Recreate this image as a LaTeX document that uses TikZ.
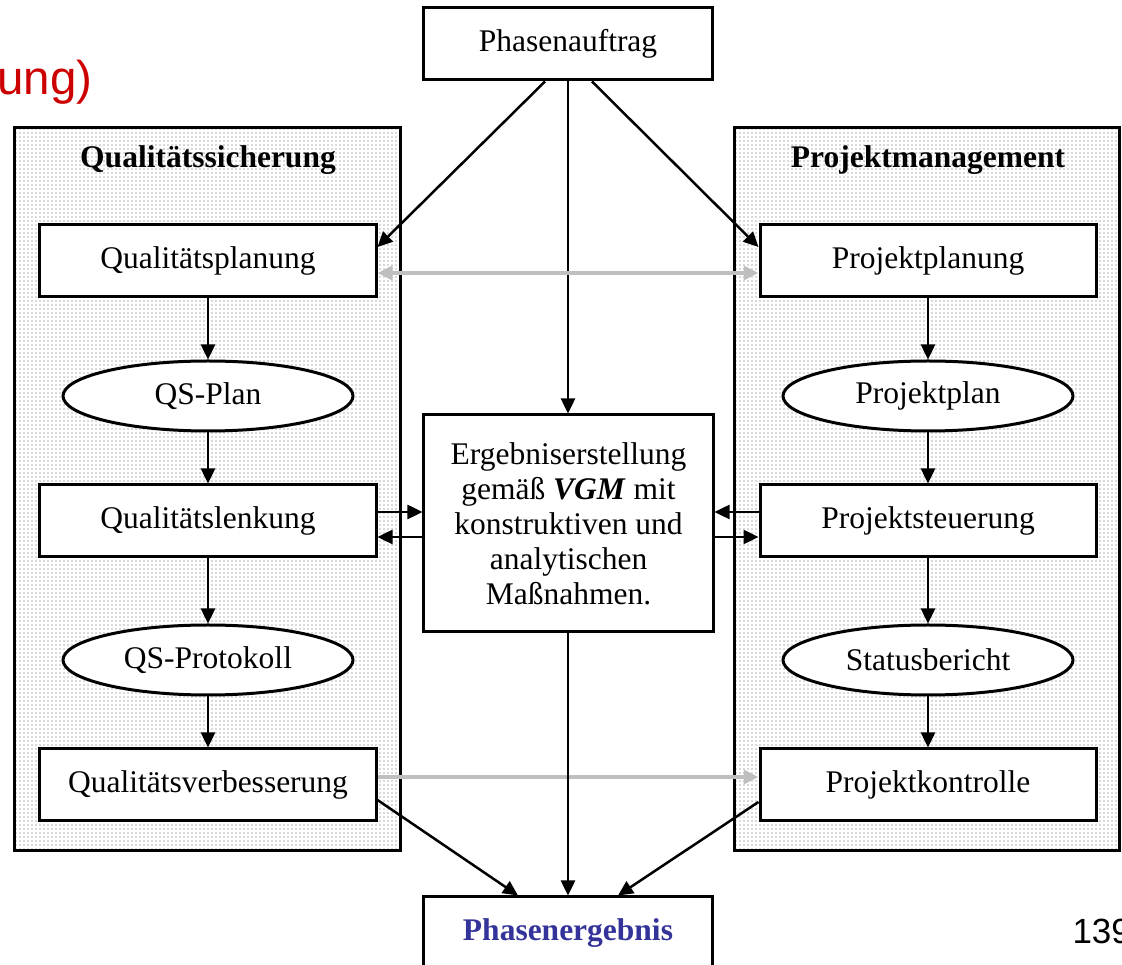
\documentclass[tikz,border=0pt]{standalone}
\usepackage{fontspec}
\setmainfont{Liberation Serif}
\newfontfamily\arialfont{Liberation Sans}
\usetikzlibrary{arrows.meta,patterns.meta,shapes.geometric}
\definecolor{titelrot}{RGB}{204,0,0}
\definecolor{ergblau}{RGB}{51,51,153}
\tikzset{
    kasten/.style={draw, line width=1.2pt, fill=white, minimum width=134.4pt, minimum height=28.8pt},
    oval/.style={draw, line width=1.2pt, fill=white, ellipse, minimum width=116pt, minimum height=28pt},
    bereich/.style={draw, line width=1.2pt, pattern={Dots[distance=1.6pt,radius=0.35pt]}, pattern color=gray!60, minimum width=154pt, minimum height=288.8pt},
    pfeil/.style={line width=1pt, -{Triangle[length=6pt,width=5.6pt]}},
    grau/.style={line width=1.6pt, draw=gray!50, -{Triangle[length=6pt,width=5.6pt]}},
}
\begin{document}
\begin{tikzpicture}[x=0.4pt, y=-0.4pt, font=\fontsize{12.6pt}{14pt}\selectfont]
        \useasboundingbox (0,0) rectangle (1122,965);
        
        \node[anchor=base east, text=titelrot, font=\arialfont\fontsize{19pt}{22pt}\selectfont, inner sep=0pt] (titel) at (93,95) {ung)};
        \node[anchor=base west, font=\arialfont\fontsize{14pt}{16pt}\selectfont, inner sep=0pt] (seite) at (1072,944) {139};
        
        % Bereiche
        \node[bereich] (qs) at (207.5,489) {};
        \node[bereich] (pm) at (927,489) {};
        \node[font=\fontsize{12.6pt}{14pt}\bfseries] (qstitel) at (208,160) {Qualitätssicherung};
        \node[font=\fontsize{12.6pt}{14pt}\bfseries] (pmtitel) at (928,160) {Projektmanagement};
        
        \node[kasten, minimum width=115.6pt] (auftrag) at (568,44) {Phasenauftrag};
        \node[kasten, minimum width=115.6pt, minimum height=86.8pt, align=center] (erstell) at (568.5,523.5)
            {Ergebniserstellung\\gemäß \textbf{\textit{VGM}} mit\\konstruktiven und\\analytischen\\Maßnahmen.};
        \node[kasten, minimum width=115.6pt, text=ergblau, font=\fontsize{12.6pt}{14pt}\bfseries] (ergebnis) at (568,933) {Phasenergebnis};
        
        \node[kasten] (qplan) at (208,261) {Qualitätsplanung};
        \node[oval] (qsplan) at (208,396) {QS-Plan};
        \node[kasten] (qlenk) at (208,521) {Qualitätslenkung};
        \node[oval] (qsprot) at (208,660) {QS-Protokoll};
        \node[kasten] (qverb) at (208,785) {Qualitätsverbesserung};
        
        \node[kasten] (pplan) at (928,261) {Projektplanung};
        \node[oval] (pplanoval) at (928,396) {Projektplan};
        \node[kasten] (psteu) at (928,521) {Projektsteuerung};
        \node[oval] (status) at (928,660) {Statusbericht};
        \node[kasten] (pkontr) at (928,785) {Projektkontrolle};
        
        % Pfeile
        \draw[pfeil] ([xshift=-9.2pt]auftrag.south) -- ([yshift=5.6pt]qplan.east);
        \draw[pfeil] ([xshift=9.6pt]auftrag.south) -- ([yshift=5.6pt]pplan.west);
        \draw[pfeil] (auftrag.south) -- (auftrag.south |- erstell.north);
        \draw[grau, {Triangle[length=6pt,width=5.6pt]}-{Triangle[length=6pt,width=5.6pt]}] ([yshift=-4.8pt]qplan.east) -- ([yshift=-4.8pt]pplan.west);
        
        \draw[pfeil] (qplan) -- (qsplan);
        \draw[pfeil] (qsplan) -- (qlenk);
        \draw[pfeil] (qlenk) -- (qsprot);
        \draw[pfeil] (qsprot) -- (qverb);
        \draw[pfeil] (pplan) -- (pplanoval);
        \draw[pfeil] (pplanoval) -- (psteu);
        \draw[pfeil] (psteu) -- (status);
        \draw[pfeil] (status) -- (pkontr);
        
        \draw[pfeil] ([yshift=3.6pt]qlenk.east) -- ([yshift=3.6pt]qlenk.east -| erstell.west);
        \draw[pfeil] ([yshift=-6.4pt]qlenk.east -| erstell.west) -- ([yshift=-6.4pt]qlenk.east);
        \draw[pfeil] ([yshift=3.6pt]psteu.west) -- ([yshift=3.6pt]psteu.west -| erstell.east);
        \draw[pfeil] ([yshift=-6.4pt]psteu.west -| erstell.east) -- ([yshift=-6.4pt]psteu.west);
        
        \draw[grau] ([yshift=3.2pt]qverb.east) -- ([yshift=3.2pt]pkontr.west);
        \draw[pfeil] ([yshift=-6pt]qverb.east) -- ([xshift=-20pt]ergebnis.north);
        \draw[pfeil] (erstell.south -| ergebnis.north) -- (ergebnis.north);
        \draw[pfeil] ([yshift=-6.8pt]pkontr.west) -- ([xshift=20pt]ergebnis.north);
        
    \end{tikzpicture}
\end{document}
